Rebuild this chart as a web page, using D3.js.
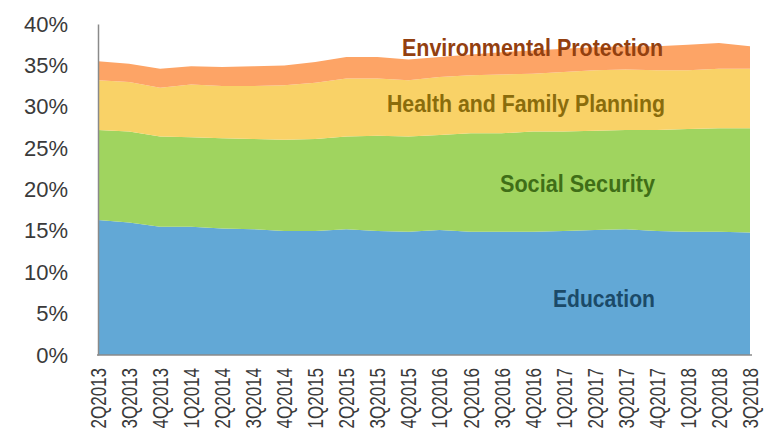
<!DOCTYPE html>
<html>
<head>
<meta charset="utf-8">
<script src="https://cdn.jsdelivr.net/npm/d3@7"></script>
<style>
  body { margin: 0; background: #fff; }
  text { font-family: Arial, "Liberation Sans", sans-serif; }
</style>
</head>
<body>
<script>
// variables:
var w = 767
var h = 430
var plotLeft = 98
var plotRight = 750
var plotTop = 24
var plotBottom = 355

// data (share of spending, %)
var quarters = ['2Q2013', '3Q2013', '4Q2013', '1Q2014', '2Q2014', '3Q2014', '4Q2014',
  '1Q2015', '2Q2015', '3Q2015', '4Q2015', '1Q2016', '2Q2016', '3Q2016', '4Q2016',
  '1Q2017', '2Q2017', '3Q2017', '4Q2017', '1Q2018', '2Q2018', '3Q2018']
var education = [16.3, 16.0, 15.5, 15.5, 15.3, 15.2, 15.0, 15.0, 15.2, 15.0, 14.9,
  15.1, 14.9, 14.9, 14.9, 15.0, 15.1, 15.2, 15.0, 14.9, 14.9, 14.8]
var socialSecurity = [10.9, 11.0, 10.9, 10.8, 10.9, 10.9, 11.0, 11.1, 11.2, 11.5, 11.5,
  11.5, 11.9, 11.9, 12.1, 12.0, 12.0, 12.0, 12.2, 12.4, 12.5, 12.6]
var healthFamily = [6.0, 6.0, 5.9, 6.4, 6.3, 6.4, 6.6, 6.8, 7.0, 6.9, 6.8,
  7.0, 7.0, 7.1, 7.0, 7.2, 7.3, 7.3, 7.2, 7.1, 7.2, 7.2]
var environment = [2.3, 2.2, 2.3, 2.2, 2.3, 2.4, 2.4, 2.5, 2.6, 2.6, 2.5,
  2.4, 2.5, 2.7, 2.8, 2.8, 2.8, 2.8, 2.9, 3.1, 3.1, 2.7]
var seriesNames = ['Education', 'Social Security', 'Health and Family Planning', 'Environmental Protection']
var yTicks = [0, 5, 10, 15, 20, 25, 30, 35, 40]

var colors = ['#62a8d6', '#a0d45f', '#f9d267', '#fda466']
var labelColors = ['#1b4a68', '#3f6e17', '#8a6c0c', '#93400f']

// build rows for the stack
var rows = quarters.map(function (q, i) {
  return {
    q: q,
    'Education': education[i],
    'Social Security': socialSecurity[i],
    'Health and Family Planning': healthFamily[i],
    'Environmental Protection': environment[i]
  }
})

var svg = d3.select('body')
  .append('svg')
  .attr('width', w)
  .attr('height', h)

var x = d3.scalePoint()
  .domain(quarters)
  .range([plotLeft, plotRight])

var y = d3.scaleLinear()
  .domain([0, 40])
  .range([plotBottom, plotTop])

var stacked = d3.stack().keys(seriesNames)(rows)

var area = d3.area()
  .x(function (d) { return x(d.data.q) })
  .y0(function (d) { return y(d[0]) })
  .y1(function (d) { return y(d[1]) })

svg.selectAll('path.layer')
  .data(stacked)
  .enter()
  .append('path')
  .attr('class', 'layer')
  .attr('d', area)
  .attr('fill', function (d, i) { return colors[i] })

// y axis
var yAxis = svg.append('g')
  .attr('transform', 'translate(' + plotLeft + ',0)')
  .call(d3.axisLeft(y)
    .tickValues(yTicks)
    .tickSize(0)
    .tickPadding(30)
    .tickFormat(function (d) { return d + '%' }))
yAxis.select('.domain').attr('stroke', '#8a8a8a').attr('stroke-width', 1.5)
yAxis.selectAll('text')
  .attr('font-size', '22px')
  .attr('fill', '#3a3a3a')
  .attr('font-family', 'Arial, "Liberation Sans", sans-serif')

// x axis
var xAxis = svg.append('g')
  .attr('transform', 'translate(0,' + plotBottom + ')')
  .call(d3.axisBottom(x).tickSize(0).tickSizeOuter(0))
xAxis.select('.domain')
  .attr('stroke', '#8a8a8a')
  .attr('stroke-width', 1.5)
  .attr('d', 'M' + (plotLeft - 1) + ',0H' + (plotRight + 2))
xAxis.selectAll('text')
  .attr('transform', 'rotate(-90) scale(1,1.25)')
  .attr('x', -13)
  .attr('y', 0)
  .attr('dy', '0.35em')
  .attr('text-anchor', 'end')
  .attr('font-size', '17px')
  .attr('fill', '#3a3a3a')
  .attr('font-family', 'Arial, "Liberation Sans", sans-serif')

// series labels
var labels = [
  { name: 'Education', x: plotRight - 95, y: y(5.8), len: 102 },
  { name: 'Social Security', x: plotRight - 95, y: y(19.7), len: 155 },
  { name: 'Health and Family Planning', x: plotRight - 85, y: y(29.4), len: 278 },
  { name: 'Environmental Protection', x: plotRight - 87, y: y(36.1), len: 261 }
]

svg.selectAll('text.series')
  .data(labels)
  .enter()
  .append('text')
  .attr('class', 'series')
  .attr('x', function (d) { return d.x })
  .attr('y', function (d) { return d.y })
  .attr('text-anchor', 'end')
  .attr('font-size', '23px')
  .attr('font-weight', 'bold')
  .attr('textLength', function (d) { return d.len })
  .attr('lengthAdjust', 'spacingAndGlyphs')
  .attr('fill', function (d, i) { return labelColors[i] })
  .text(function (d) { return d.name })
</script>
</body>
</html>
